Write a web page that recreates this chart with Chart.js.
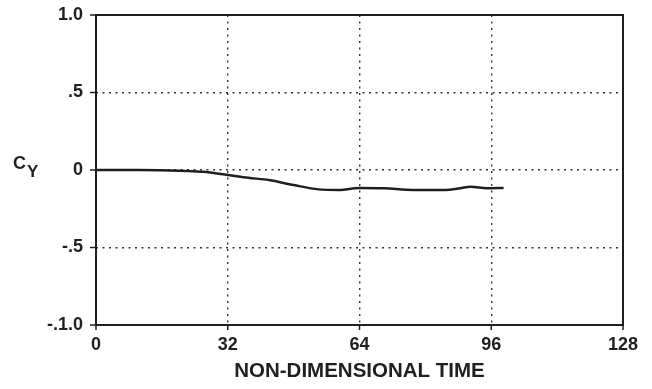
<!DOCTYPE html>
<html>
<head>
<meta charset="utf-8">
<script src="https://cdn.jsdelivr.net/npm/chart.js@4.4.0/dist/chart.umd.min.js"></script>
<style>
html, body { margin: 0; padding: 0; background: #fff; }
#wrap { width: 652px; height: 389px; }
</style>
</head>
<body>
<div id="wrap"><canvas id="grafico"></canvas></div>
<script>
// ===== DADOS =====
const tempo = [0, 10, 18, 22, 26, 32, 37, 42, 48, 54, 59, 64, 70, 77, 85, 88, 91, 95, 99];
const cy = [0, 0, -0.003, -0.006, -0.012, -0.032, -0.05, -0.065, -0.097, -0.125, -0.129, -0.116, -0.118, -0.129, -0.129, -0.12, -0.108, -0.118, -0.116];

const ticksX = [0, 32, 64, 96, 128];
const ticksY = [1.0, 0.5, 0, -0.5, -1.0];
const rotulosY = ["1.0", ".5", "0", "-.5", "-.1.0"];

const tinta = "#1f1f1f";
const fonte = "'Liberation Sans', Arial, sans-serif";

/* ===== MOLDURA, MARCAS E RÓTULO CY ===== */
const moldura = {
    id: "moldura",
    afterDraw(chart) {
        const { ctx, chartArea: a, scales } = chart;
        ctx.save();
        ctx.strokeStyle = tinta;
        ctx.lineWidth = 2;
        ctx.strokeRect(a.left, a.top, a.right - a.left, a.bottom - a.top);

        ctx.lineWidth = 1.5;
        ticksX.forEach(v => {
            const x = scales.x.getPixelForValue(v);
            ctx.beginPath();
            ctx.moveTo(x, a.bottom);
            ctx.lineTo(x, a.bottom + 5);
            ctx.stroke();
        });
        ticksY.forEach(v => {
            const y = scales.y.getPixelForValue(v);
            ctx.beginPath();
            ctx.moveTo(a.left - 6, y);
            ctx.lineTo(a.left, y);
            ctx.stroke();
        });

        ctx.fillStyle = tinta;
        ctx.textBaseline = "alphabetic";
        ctx.font = "bold 18px " + fonte;
        ctx.fillText("C", 13, 169);
        ctx.font = "bold 17px " + fonte;
        ctx.fillText("Y", 27, 177);
        ctx.restore();
    }
};

/* ===== GRÁFICO ===== */
new Chart(document.getElementById("grafico"), {
    type: "line",
    data: {
        datasets: [{
            data: tempo.map((t, i) => ({ x: t, y: cy[i] })),
            borderColor: tinta,
            borderWidth: 2.5,
            pointRadius: 0,
            cubicInterpolationMode: "monotone",
            fill: false
        }]
    },
    options: {
        responsive: true,
        maintainAspectRatio: false,
        animation: false,
        layout: { padding: { left: 0, right: 29, top: 15, bottom: 0 } },
        plugins: { legend: { display: false }, tooltip: { enabled: false } },
        scales: {
            x: {
                type: "linear",
                min: 0,
                max: 128,
                afterBuildTicks: s => { s.ticks = ticksX.map(v => ({ value: v })); },
                afterFit: s => { s.height = 64; },
                grid: { color: "#333", lineWidth: 1.4, drawTicks: false },
                border: { display: false, dash: [2, 4.5] },
                ticks: {
                    padding: 9,
                    color: tinta,
                    font: { family: fonte, size: 18, weight: "bold" },
                    maxRotation: 0
                },
                title: {
                    display: true,
                    text: "NON-DIMENSIONAL TIME",
                    color: tinta,
                    font: { family: fonte, size: 20.5, weight: "bold" },
                    padding: { top: 0, bottom: 5 }
                }
            },
            y: {
                min: -1,
                max: 1,
                afterBuildTicks: s => { s.ticks = ticksY.map(v => ({ value: v })); },
                afterFit: s => { s.width = 96; s.paddingTop = 0; s.paddingBottom = 0; },
                grid: { color: "#333", lineWidth: 1.4, drawTicks: false },
                border: { display: false, dash: [2, 4.5] },
                ticks: {
                    padding: 13,
                    color: tinta,
                    font: { family: fonte, size: 18, weight: "bold" },
                    callback: v => rotulosY[ticksY.indexOf(v)]
                }
            }
        }
    },
    plugins: [moldura]
});
</script>
</body>
</html>
